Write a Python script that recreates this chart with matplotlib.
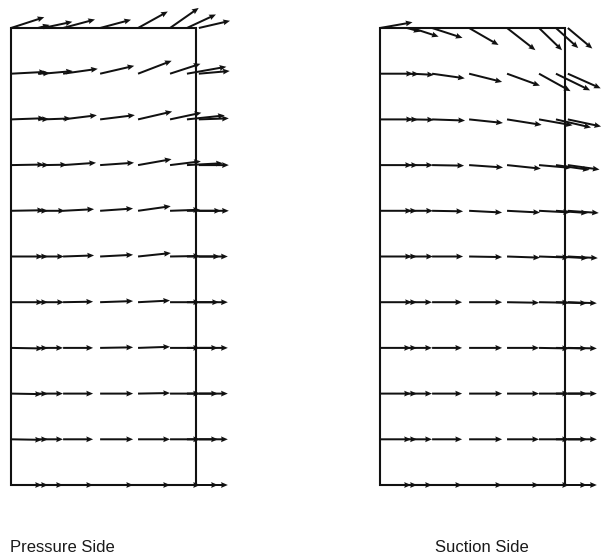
import numpy as np
import matplotlib.pyplot as plt
from matplotlib.patches import Rectangle

# measuring stations (in units of row spacing), box size
x_nodes = [0.0, 0.59, 0.70, 1.14, 1.95, 2.78, 3.48, 3.85, 4.11]
y_rows = [10, 9, 8, 7, 6, 5, 4, 3, 2, 1, 0]   # listed top to bottom
box_w = 4.05
box_h = 10.0

# Pressure side: flow angle (deg) and velocity magnitude (px) per row, top to bottom
pressure_angle = [
    [18, 15, 12, 15, 15, 29, 35, 25, 13],
    [3, 3, 5, 8, 13, 21, 18, 10, 5],
    [2, 2, 2, 7, 7, 13, 12, 6, 2],
    [1, 1, 1, 4, 4, 10, 7, 3, 0],
    [1, 0, 0, 3, 4, 8, 2, 0, 0],
    [0, 0, 0, 2, 3, 6, 1, 0, 0],
    [0, 0, 0, 1, 2, 3, 0, 0, 0],
    [-1, -1, 0, 0, 1, 2, 0, 0, 0],
    [-1, -1, 0, 0, 0, 1, 0, 0, 0],
    [-1, 0, 0, 0, 0, 0, 0, 0, 0],
    [0, 0, 0, 0, 0, 0, 0, 0, 0],
]
pressure_mag = [
    [35, 12, 30, 33, 32, 34, 35, 32, 32],
    [35, 12, 30, 35, 35, 36, 32, 40, 31],
    [34, 11, 28, 34, 35, 35, 32, 38, 30],
    [33, 11, 24, 33, 34, 34, 31, 36, 30],
    [33, 10, 22, 31, 33, 33, 30, 34, 30],
    [32, 10, 21, 31, 33, 33, 30, 33, 29],
    [32, 10, 21, 30, 33, 32, 30, 32, 29],
    [32, 10, 20, 30, 33, 32, 30, 31, 29],
    [31, 10, 20, 30, 33, 32, 30, 31, 29],
    [31, 10, 20, 30, 33, 32, 30, 31, 29],
    [31, 10, 20, 30, 33, 32, 30, 31, 29],
]

# Suction side
suction_angle = [
    [10, -15, -18, -18, -30, -38, -44, -42, -40],
    [0, -2, -3, -8, -14, -20, -29, -26, -24],
    [0, -1, -1, -2, -6, -9, -10, -13, -12],
    [0, 0, 0, -1, -4, -6, -5, -8, -8],
    [0, 0, 0, -1, -3, -3, -3, -4, -4],
    [0, 0, 0, 0, -1, -2, -2, -3, -3],
    [0, 0, 0, 0, 0, -1, -1, -2, -2],
    [0, 0, 0, 0, 0, 0, -1, -1, -1],
    [0, 0, 0, 0, 0, 0, 0, 0, 0],
    [0, 0, 0, 0, 0, 0, 0, 0, 0],
    [0, 0, 0, 0, 0, 0, 0, 0, 0],
]
suction_mag = [
    [33, 14, 28, 32, 34, 36, 32, 30, 32],
    [33, 12, 22, 33, 34, 35, 36, 38, 36],
    [33, 11, 22, 33, 34, 35, 34, 36, 34],
    [32, 11, 21, 32, 34, 34, 32, 34, 32],
    [32, 10, 21, 31, 33, 33, 31, 32, 31],
    [32, 10, 21, 31, 33, 33, 30, 32, 30],
    [32, 10, 20, 30, 33, 32, 30, 31, 29],
    [31, 10, 20, 30, 33, 32, 30, 31, 29],
    [31, 10, 20, 30, 33, 32, 30, 31, 29],
    [31, 10, 20, 30, 33, 32, 30, 31, 29],
    [31, 10, 20, 30, 33, 32, 30, 31, 29],
]

labels = ["Pressure Side", "Suction Side"]

PX = 45.7  # pixels per row spacing
W, H = 603, 555


def draw_panel(ax, angle, mag):
    X, Y = np.meshgrid(x_nodes, y_rows)
    a = np.radians(np.array(angle, dtype=float))
    m = np.array(mag, dtype=float)
    U = m * np.cos(a)
    V = m * np.sin(a)
    ax.add_patch(Rectangle((0, 0), box_w, box_h, fill=False,
                           edgecolor="#111111", linewidth=1.5, zorder=1))
    ax.quiver(X, Y, U, V, angles="xy", scale_units="xy", scale=PX,
              units="dots", width=2.0, headwidth=2.9, headlength=3.4,
              headaxislength=3.1, color="#111111", zorder=2)
    ax.axis("off")


fig = plt.figure(figsize=(W / 100, H / 100), dpi=100)

# left panel: box left edge at x=11px, box bottom at 70px from figure bottom
ax1 = fig.add_axes([0, 0, 300 / W, 1])
ax1.set_xlim(-11 / PX, (300 - 11) / PX)
ax1.set_ylim(-70 / PX, (H - 70) / PX)
draw_panel(ax1, pressure_angle, pressure_mag)

ax2 = fig.add_axes([300 / W, 0, 303 / W, 1])
ax2.set_xlim(-80 / PX, (303 - 80) / PX)
ax2.set_ylim(-70 / PX, (H - 70) / PX)
draw_panel(ax2, suction_angle, suction_mag)

fig.text(10 / W, 1 - 548 / H, labels[0], fontsize=12, family="Liberation Sans",
         va="center", ha="left", color="#1a1a1a")
fig.text(482 / W, 1 - 548 / H, labels[1], fontsize=12, family="Liberation Sans",
         va="center", ha="center", color="#1a1a1a")

fig.savefig("out.png", dpi=100)
